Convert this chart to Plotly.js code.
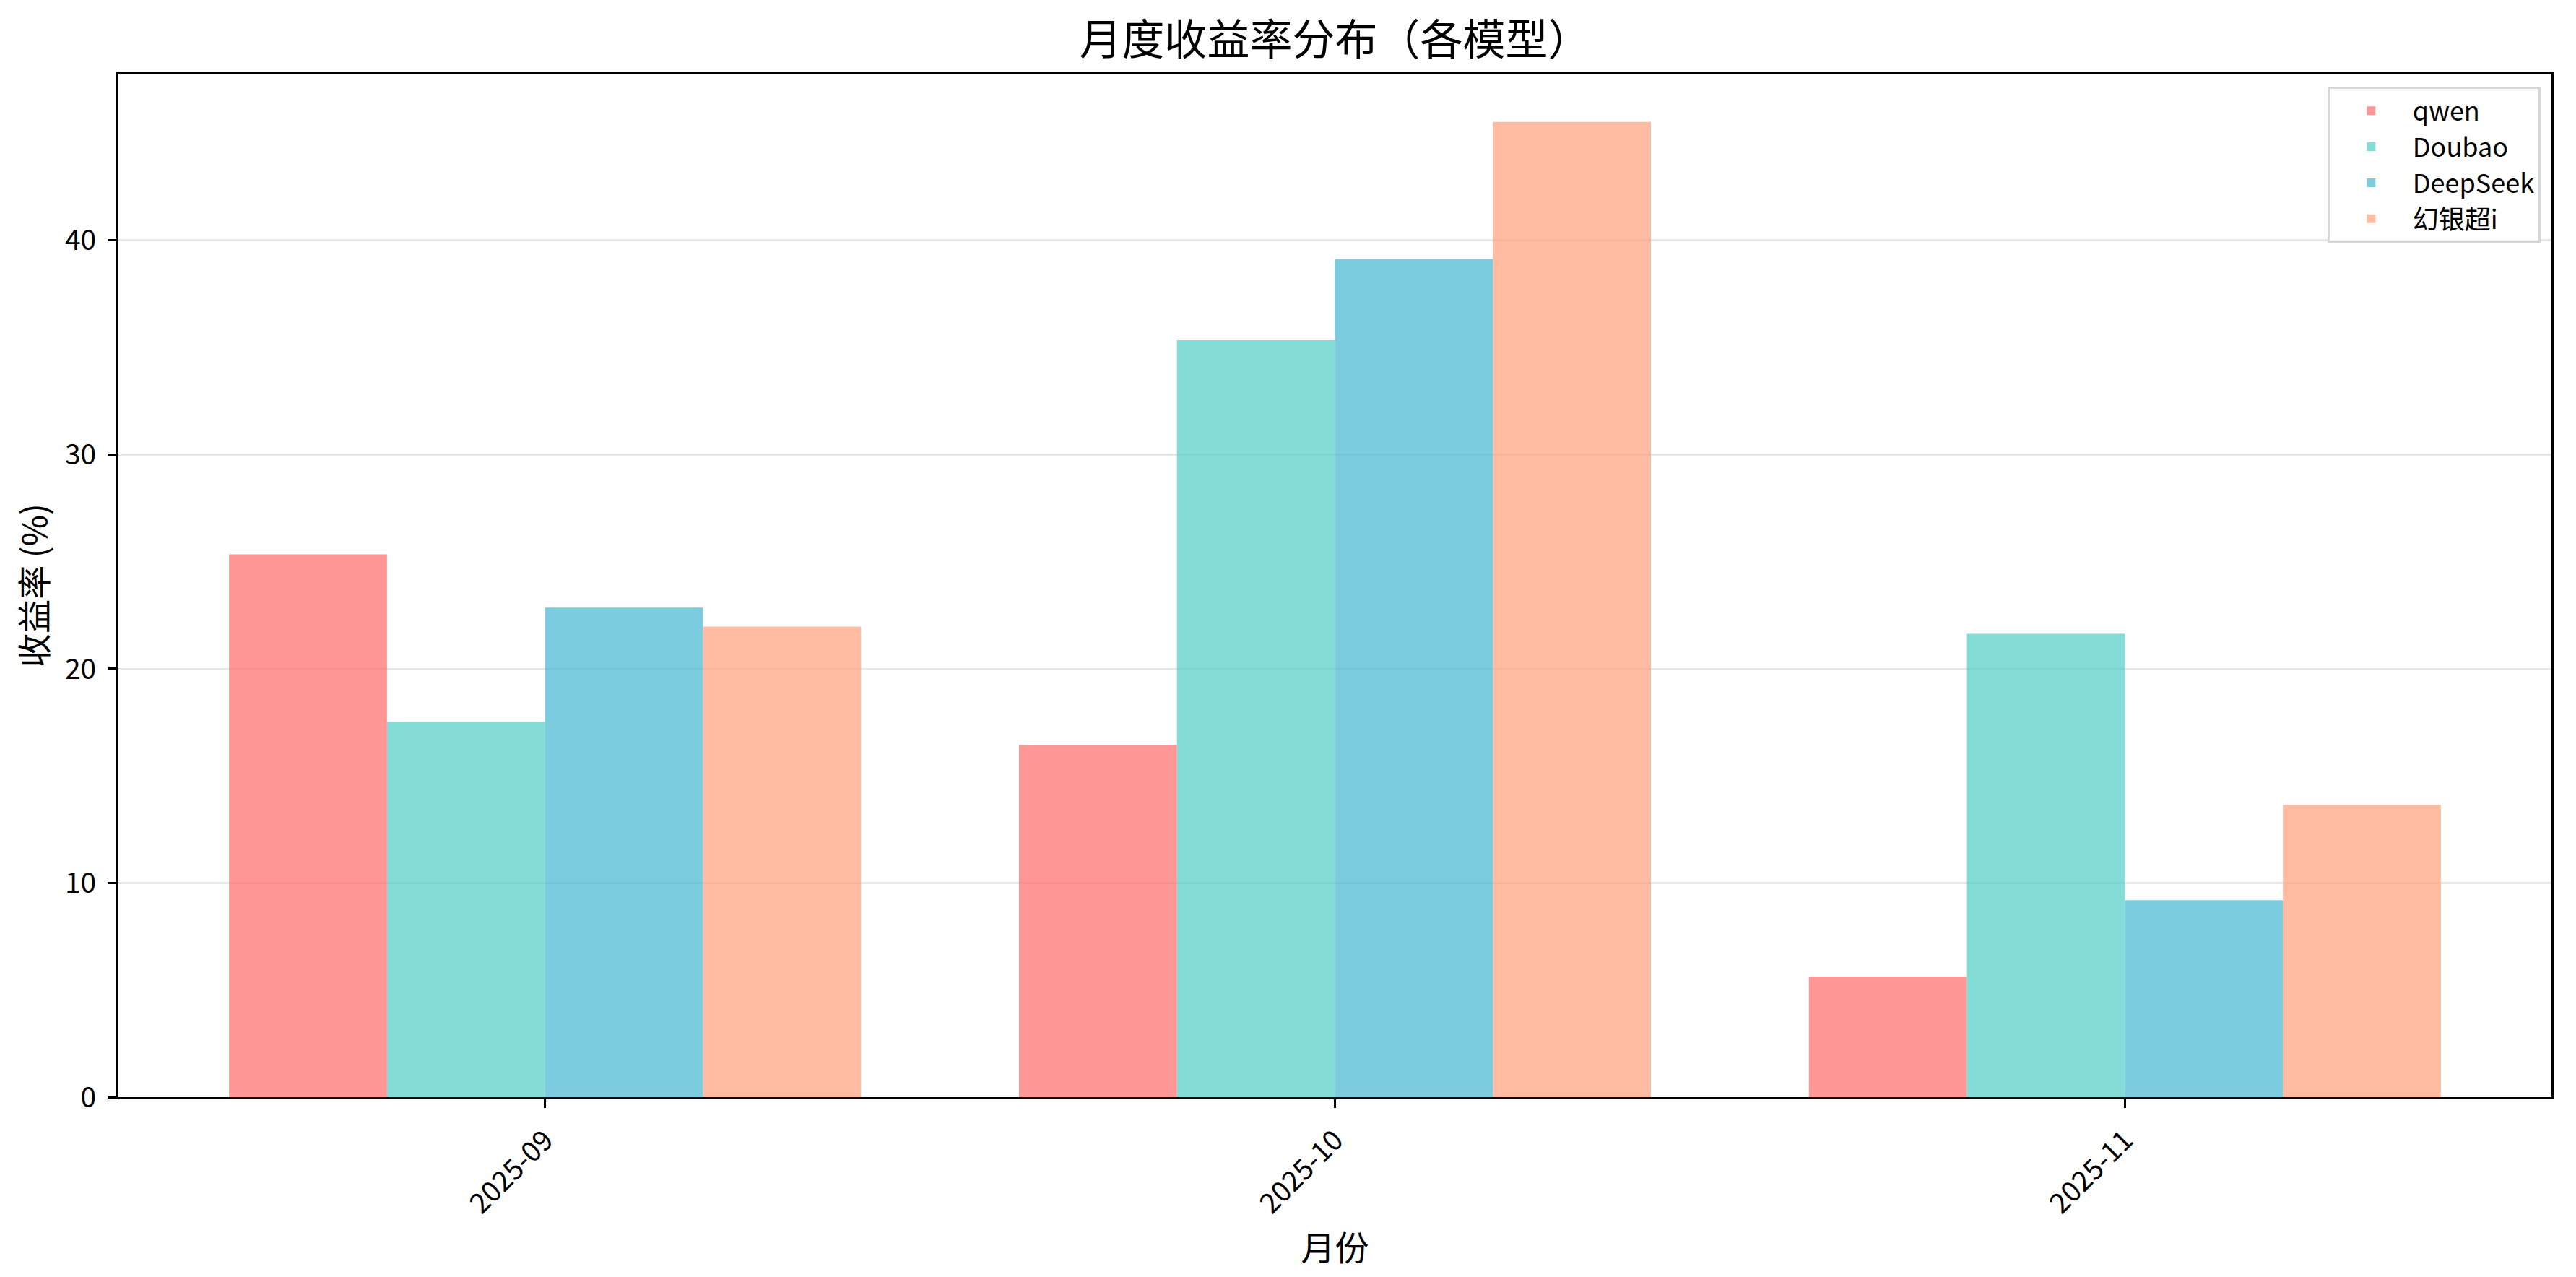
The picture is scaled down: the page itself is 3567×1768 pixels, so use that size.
<!DOCTYPE html>
<html>
<head>
<meta charset="utf-8">
<script src="https://cdn.plot.ly/plotly-3.0.1.min.js"></script>
<style>html,body{margin:0;padding:0;background:#fff;}#chart{width:3567px;height:1768px;}</style>
</head>
<body>
<div id="chart"></div>
<script>
const months = ["2025-09", "2025-10", "2025-11"];
const seriesNames = ["qwen", "Doubao", "DeepSeek", "幻银超i"];
const qwen = [25.34, 16.44, 5.63];
const doubao = [17.52, 35.34, 21.63];
const deepseek = [22.85, 39.12, 9.20];
const huanyin = [21.97, 45.53, 13.65];
const seriesValues = [qwen, doubao, deepseek, huanyin];
const colors = ["rgba(255,107,107,0.7)", "rgba(78,205,196,0.7)", "rgba(69,183,209,0.7)", "rgba(255,160,122,0.7)"];

const FONT = '"Noto Sans CJK SC", "Noto Sans", sans-serif';

const traces = seriesNames.map((name, i) => ({
  type: "bar",
  name: name,
  x: months,
  y: seriesValues[i],
  marker: {color: colors[i], line: {width: 0}},
  hoverinfo: "x+y+name"
}));

const layout = {
  width: 3567,
  height: 1768,
  paper_bgcolor: "#ffffff",
  plot_bgcolor: "#ffffff",
  font: {family: FONT, color: "#000000", size: 38},
  margin: {l: 164, r: 34, t: 102, b: 249, pad: 0},
  barmode: "group",
  bargap: 0.2,
  bargroupgap: 0,
  title: {
    text: "月度收益率分布（各模型）",
    font: {family: FONT, size: 59, color: "#000000"},
    xref: "paper", x: 0.5, xanchor: "center",
    y: 1 - 55 / 1768, yanchor: "middle", yref: "container"
  },
  xaxis: {
    type: "category",
    range: [-0.54, 2.54],
    showgrid: false,
    showline: true, mirror: true, linecolor: "#000000", linewidth: 3,
    ticks: "outside", ticklen: 12, tickwidth: 3, tickcolor: "#000000",
    tickangle: -45,
    tickfont: {family: FONT, size: 39, color: "#000000"},
    ticklabelstandoff: 6,
    zeroline: false,
    title: {text: "月份", font: {family: FONT, size: 47, color: "#000000"}, standoff: 10}
  },
  yaxis: {
    range: [0, 47.78],
    dtick: 10,
    tick0: 0,
    showgrid: true, gridcolor: "rgb(231,231,231)", gridwidth: 2.6,
    showline: true, mirror: true, linecolor: "#000000", linewidth: 3,
    ticks: "outside", ticklen: 12, tickwidth: 3, tickcolor: "#000000",
    tickfont: {family: FONT, size: 39, color: "#000000"},
    ticklabelstandoff: 8,
    zeroline: false,
    title: {text: "收益率 (%)", font: {family: FONT, size: 47, color: "#000000"}, standoff: 10}
  },
  showlegend: true,
  legend: {
    x: 0.9955, xanchor: "right",
    y: 0.987, yanchor: "top",
    bgcolor: "rgba(255,255,255,0.8)",
    bordercolor: "rgb(214,214,214)",
    borderwidth: 3,
    font: {family: FONT, size: 36, color: "#000000"},
    itemwidth: 105,
    tracegroupgap: 0
  }
};

Plotly.newPlot("chart", traces, layout, {displayModeBar: false, staticPlot: true});
</script>
</body>
</html>
